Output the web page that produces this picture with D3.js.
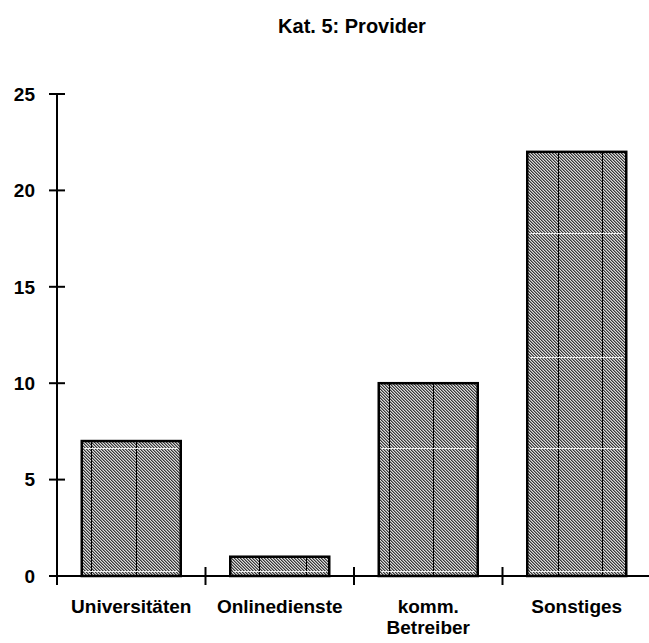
<!DOCTYPE html>
<html>
<head>
<meta charset="utf-8">
<script src="https://cdn.jsdelivr.net/npm/d3@7"></script>
<style>
  html, body { margin: 0; padding: 0; background: #fff; }
  svg { display: block; }
  text { font-family: "Liberation Sans", Arial, sans-serif; font-weight: bold; fill: #000; }
</style>
</head>
<body>
<div id="chart"></div>
<script>
// Kategorie 5: Provider — number of mentions per provider type
const title = "Kat. 5: Provider";
const categories = ["Universitäten", "Onlinedienste", "komm.\nBetreiber", "Sonstiges"];
const values = [7, 1, 10, 22];
const yTicks = [0, 5, 10, 15, 20, 25];

const W = 649, H = 643;
const margin = { left: 57, right: 0, top: 94, bottom: 67 };

const svg = d3.select("#chart").append("svg")
  .attr("width", W).attr("height", H);

// fine diagonal hatch used as bar fill (3px period)
const defs = svg.append("defs");
const pat = defs.append("pattern")
  .attr("id", "hatch")
  .attr("patternUnits", "userSpaceOnUse")
  .attr("width", 3).attr("height", 3);
pat.append("rect").attr("width", 3).attr("height", 3).attr("fill", "#dcdcdc");
for (let i = 0; i < 3; i++) {
  pat.append("rect").attr("x", i).attr("y", i).attr("width", 1).attr("height", 1).attr("fill", "#383838");
  pat.append("rect").attr("x", (i + 1) % 3).attr("y", i).attr("width", 1).attr("height", 1).attr("fill", "#8a8a8a");
}

const x = d3.scaleBand()
  .domain(categories)
  .range([margin.left, W + 2 - margin.right])
  .paddingInner(1 / 3)
  .paddingOuter(1 / 6);

const y = d3.scaleLinear()
  .domain([0, 25])
  .range([H - margin.bottom, margin.top]);

// title
svg.append("text")
  .attr("x", 352).attr("y", 33)
  .attr("text-anchor", "middle")
  .style("font-size", "20px")
  .text(title);

// bars
const bars = svg.append("g").selectAll("g")
  .data(categories.map((c, i) => ({ c, v: values[i] })))
  .join("g");

bars.append("rect")
  .attr("x", d => x(d.c))
  .attr("y", d => y(d.v))
  .attr("width", x.bandwidth())
  .attr("height", d => y(0) - y(d.v))
  .attr("fill", "url(#hatch)")
  .attr("stroke", "#000")
  .attr("stroke-width", 2.5);

// thin seams inside each bar (fraction of bar width)
const seams = [[0.09, 0.55], [0.29, 0.77], [0.10, 0.55], [0.31, 0.76]];
bars.each(function (d, i) {
  const g = d3.select(this);
  seams[i].forEach(f => {
    const sx = Math.round(x(d.c) + f * x.bandwidth()) + 0.5;
    g.append("line")
      .attr("x1", sx).attr("x2", sx)
      .attr("y1", y(d.v)).attr("y2", y(0))
      .attr("stroke", "#000").attr("stroke-width", 1);
  });
  // faint light scan rows
  [233, 357, 448, 571].forEach(ly => {
    if (ly > y(d.v) + 3 && ly < y(0) - 2) {
      g.append("rect")
        .attr("x", x(d.c) + 3).attr("width", x.bandwidth() - 6)
        .attr("y", ly).attr("height", 1)
        .attr("fill", "#eeeeee");
    }
  });
});

// y axis
const yAxis = svg.append("g");
yAxis.append("line")
  .attr("x1", margin.left).attr("x2", margin.left)
  .attr("y1", y(25)).attr("y2", y(0))
  .attr("stroke", "#000").attr("stroke-width", 2);
yAxis.selectAll("line.tick")
  .data(yTicks)
  .join("line").attr("class", "tick")
  .attr("x1", margin.left - 8).attr("x2", margin.left + 8)
  .attr("y1", d => y(d)).attr("y2", d => y(d))
  .attr("stroke", "#000").attr("stroke-width", 2);
yAxis.selectAll("text")
  .data(yTicks)
  .join("text")
  .attr("x", 35).attr("y", d => y(d))
  .attr("dy", "0.36em")
  .attr("text-anchor", "end")
  .style("font-size", "19px")
  .text(d => d);

// x axis
const xAxis = svg.append("g");
xAxis.append("line")
  .attr("x1", margin.left).attr("x2", W)
  .attr("y1", y(0)).attr("y2", y(0))
  .attr("stroke", "#000").attr("stroke-width", 2);
const step = x.step();
const boundaries = categories.map(c => x(c) - x.paddingInner() * step / 2);
xAxis.selectAll("line.tick")
  .data(boundaries)
  .join("line").attr("class", "tick")
  .attr("x1", d => d).attr("x2", d => d)
  .attr("y1", y(0) - 9).attr("y2", y(0) + 9)
  .attr("stroke", "#000").attr("stroke-width", 2);

const labels = xAxis.selectAll("text")
  .data(categories)
  .join("text")
  .attr("x", d => x(d) + x.bandwidth() / 2)
  .attr("y", y(0) + 37)
  .attr("text-anchor", "middle")
  .style("font-size", "19px");
labels.each(function (d) {
  const t = d3.select(this);
  d.split("\n").forEach((line, k) => {
    t.append("tspan")
      .attr("x", x(d) + x.bandwidth() / 2)
      .attr("dy", k === 0 ? 0 : 21)
      .text(line);
  });
});
</script>
</body>
</html>
